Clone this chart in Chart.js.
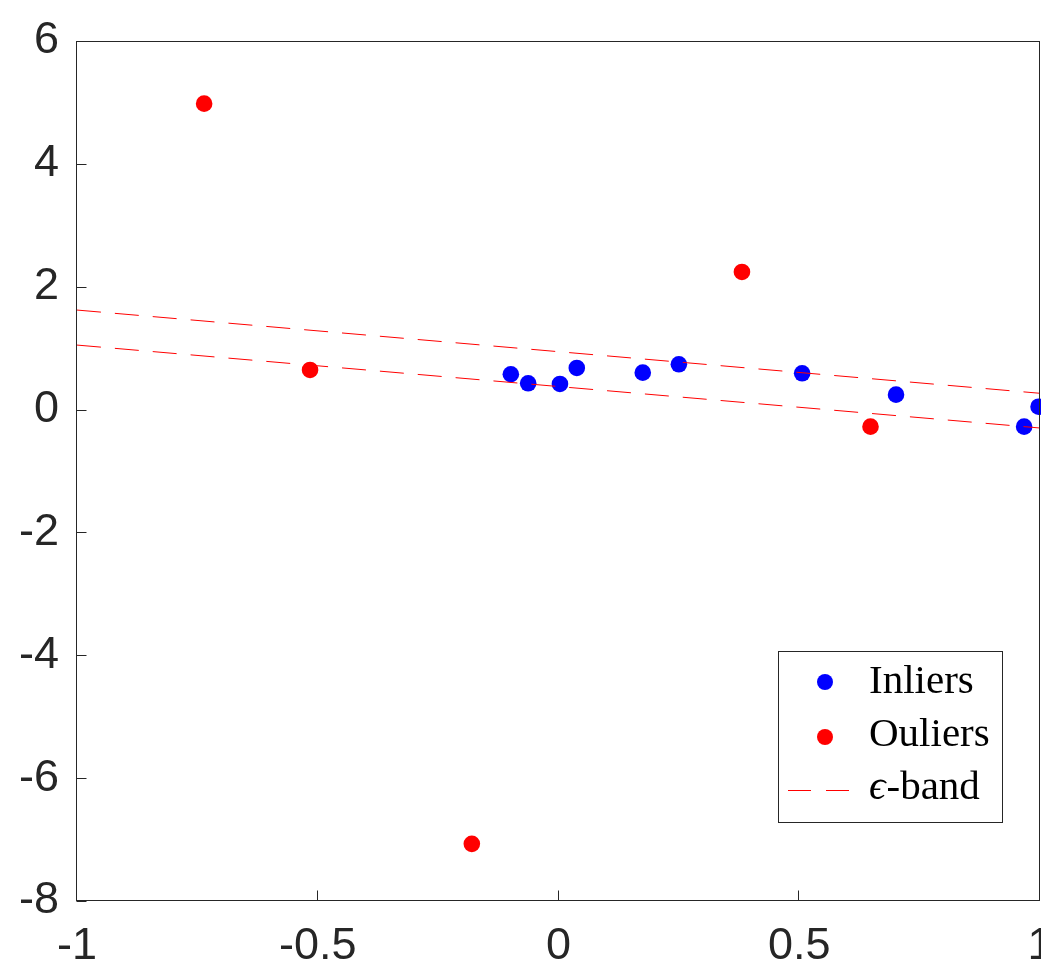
<!DOCTYPE html>
<html>
<head>
<meta charset="utf-8">
<script src="https://cdn.jsdelivr.net/npm/chart.js@4/dist/chart.umd.min.js"></script>
<style>
  html, body { margin: 0; padding: 0; background: #fff; }
  canvas { display: block; }
</style>
</head>
<body>
<canvas id="robustChart" width="1041" height="965"></canvas>
<script>
"use strict";

// --- data ---
const inlierX = [-0.099, -0.063, 0.003, 0.038, 0.175, 0.250, 0.506, 0.701, 0.967, 0.997];
const inlierY = [0.575, 0.428, 0.417, 0.677, 0.601, 0.737, 0.591, 0.243, -0.278, 0.047];

const outlierX = [-0.736, -0.516, -0.180, 0.381, 0.648];
const outlierY = [4.98, 0.645, -7.07, 2.24, -0.278];

// epsilon band: two parallel lines across the x range
const bandX = [-1, 1];
const bandUpper = [1.62, 0.265];
const bandLower = [1.05, -0.30];

const xTicks = [-1, -0.5, 0, 0.5, 1];
const yTicks = [-8, -6, -4, -2, 0, 2, 4, 6];

const legendLabels = ['Inliers', 'Ouliers', '-band'];

const AXIS_COLOR = '#262626';
const TICK_FONT = { family: '"Liberation Sans", Arial, sans-serif', size: 45 };

function toPoints(xs, ys) {
    return xs.map((x, i) => ({ x: x, y: ys[i] }));
}

// frame, inward tick marks and the boxed legend (MATLAB style)
const frameAndLegend = {
    id: 'frameAndLegend',
    afterDraw(chart) {
        const { ctx, chartArea: a, scales } = chart;
        const left = Math.round(a.left) - 0.5;
        const right = Math.round(a.right) - 0.5;
        const top = Math.round(a.top) + 0.5;
        const bottom = Math.round(a.bottom) - 0.5;

        ctx.save();
        ctx.strokeStyle = AXIS_COLOR;
        ctx.lineWidth = 1;
        ctx.setLineDash([]);
        ctx.strokeRect(left, top, right - left, bottom - top);

        const tickLen = 10;
        ctx.beginPath();
        xTicks.forEach(v => {
            const px = Math.round(scales.x.getPixelForValue(v)) - 0.5;
            ctx.moveTo(px, bottom);
            ctx.lineTo(px, bottom - tickLen);
        });
        yTicks.forEach(v => {
            const py = Math.round(scales.y.getPixelForValue(v)) + 0.5;
            ctx.moveTo(left, py);
            ctx.lineTo(left + tickLen, py);
        });
        ctx.stroke();

        // legend box
        const bx = 778.5, by = 651.5, bw = 224, bh = 171;
        ctx.fillStyle = '#fff';
        ctx.fillRect(bx, by, bw, bh);
        ctx.strokeStyle = AXIS_COLOR;
        ctx.strokeRect(bx, by, bw, bh);

        const markX = 825;
        const textX = 869;
        const rows = [682, 737, 790];
        const baselines = [693, 746, 799];

        ctx.fillStyle = '#0000ff';
        ctx.beginPath();
        ctx.arc(markX, rows[0], 8, 0, Math.PI * 2);
        ctx.fill();

        ctx.fillStyle = '#ff0000';
        ctx.beginPath();
        ctx.arc(markX, rows[1], 8, 0, Math.PI * 2);
        ctx.fill();

        ctx.strokeStyle = '#ff0000';
        ctx.setLineDash([23, 15]);
        ctx.beginPath();
        ctx.moveTo(788, rows[2] + 0.5);
        ctx.lineTo(851, rows[2] + 0.5);
        ctx.stroke();
        ctx.setLineDash([]);

        const serif = '"Liberation Serif", "DejaVu Serif", serif';
        ctx.fillStyle = '#000';
        ctx.textBaseline = 'alphabetic';
        ctx.textAlign = 'left';
        ctx.font = '41px ' + serif;
        ctx.fillText(legendLabels[0], textX, baselines[0]);
        ctx.fillText(legendLabels[1], textX, baselines[1]);

        ctx.font = 'italic 41px ' + serif;
        ctx.fillText('\u03f5', textX, baselines[2]);
        const epsW = ctx.measureText('\u03f5').width;
        ctx.font = '41px ' + serif;
        ctx.fillText(legendLabels[2], textX + epsW + 1, baselines[2]);

        ctx.restore();
    }
};

new Chart(document.getElementById('robustChart').getContext('2d'), {
    type: 'scatter',
    data: {
        datasets: [
            {
                label: 'upper',
                data: toPoints(bandX, bandUpper),
                showLine: true,
                borderColor: '#ff0000',
                borderWidth: 1,
                borderDash: [24, 14],
                pointRadius: 0,
                order: 0
            },
            {
                label: 'lower',
                data: toPoints(bandX, bandLower),
                showLine: true,
                borderColor: '#ff0000',
                borderWidth: 1,
                borderDash: [24, 14],
                pointRadius: 0,
                order: 0
            },
            {
                label: 'Inliers',
                data: toPoints(inlierX, inlierY),
                backgroundColor: '#0000ff',
                borderWidth: 0,
                pointRadius: 8.3,
                clip: false,
                order: 1
            },
            {
                label: 'Ouliers',
                data: toPoints(outlierX, outlierY),
                backgroundColor: '#ff0000',
                borderWidth: 0,
                pointRadius: 8.3,
                clip: false,
                order: 1
            }
        ]
    },
    options: {
        responsive: false,
        animation: false,
        devicePixelRatio: 1,
        layout: { autoPadding: false, padding: { top: 41, right: 1, left: 0, bottom: 0 } },
        plugins: {
            legend: { display: false },
            tooltip: { enabled: false }
        },
        scales: {
            x: {
                type: 'linear',
                min: -1,
                max: 1,
                grid: { display: false, drawTicks: false },
                border: { display: false },
                ticks: {
                    color: AXIS_COLOR,
                    font: TICK_FONT,
                    padding: 19,
                    maxRotation: 0,
                    autoSkip: false,
                    callback: v => String(v)
                },
                afterBuildTicks: s => { s.ticks = xTicks.map(v => ({ value: v })); },
                afterFit: s => {
                    s.height = 64;
                    s.paddingLeft = 0;
                    s.paddingRight = 0;
                }
            },
            y: {
                type: 'linear',
                min: -8,
                max: 6,
                grid: { display: false, drawTicks: false },
                border: { display: false },
                ticks: {
                    color: AXIS_COLOR,
                    font: TICK_FONT,
                    padding: 18,
                    autoSkip: false,
                    callback: v => String(v)
                },
                afterBuildTicks: s => { s.ticks = yTicks.map(v => ({ value: v })); },
                afterFit: s => {
                    s.width = 77;
                    s.paddingTop = 0;
                    s.paddingBottom = 0;
                }
            }
        }
    },
    plugins: [frameAndLegend]
});
</script>
</body>
</html>
